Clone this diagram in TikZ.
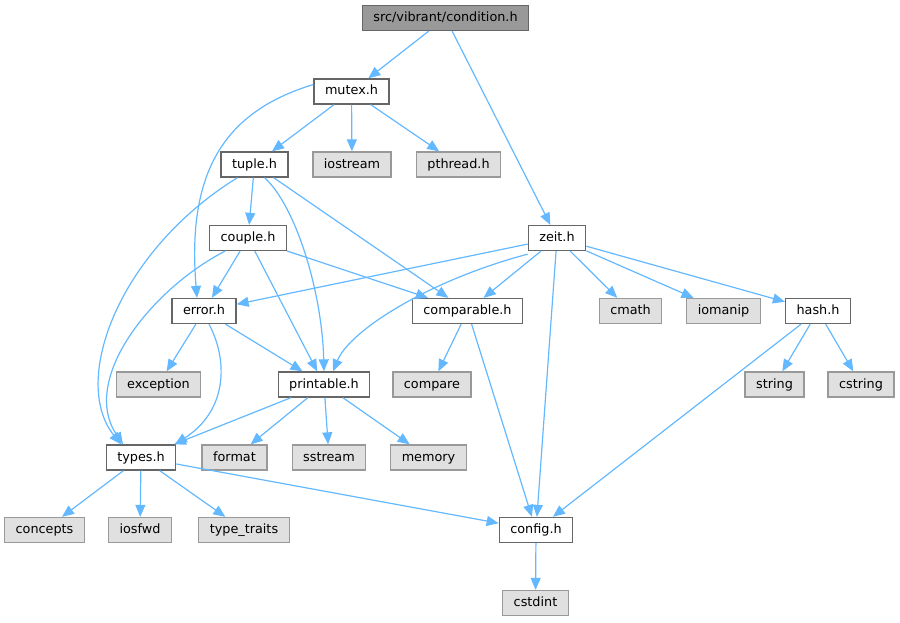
\documentclass[tikz,border=0pt]{standalone}
\usepackage{fontspec}
\setmainfont{DejaVu Sans}
\usepackage{tikz}
\usetikzlibrary{arrows.meta}
\usetikzlibrary{positioning}
\definecolor{edgeblue}{HTML}{63B8FF}
\definecolor{boxline}{HTML}{666666}
\definecolor{sysline}{HTML}{999999}
\definecolor{sysfill}{HTML}{E0E0E0}
\tikzset{file/.style = {draw=boxline, fill=white, line width=1.3pt,
                        inner xsep=11pt, inner ysep=0pt, minimum height=25pt,
                        text height=9.6pt, text depth=2.6pt,
                        font=\fontsize{12.8}{15}\selectfont}}
\tikzset{sysfile/.style = {file, draw=sysline, fill=sysfill}}
\tikzset{rootfile/.style = {file, fill=sysline}}
\tikzset{dep/.style = {draw=edgeblue, line width=1.2pt,
                       -{Triangle[length=12pt,width=10pt]}}}

\begin{document}
\begin{tikzpicture}[x=1pt, y=-1pt]
    \useasboundingbox (0, 0) rectangle (900, 623);

    \node [rootfile] (cond) at (445.5, 18) {src/vibrant/condition.h};
    \node [file] (mutex) at (351.5, 91.5) {mutex.h};
    \node [file] (tuple) at (254.5, 164.5) {tuple.h};
    \node [sysfile] (iostream) at (352, 164.5) {iostream};
    \node [sysfile] (pthread) at (458.5, 164.5) {pthread.h};
    \node [file] (couple) at (248, 238) {couple.h};
    \node [file] (zeit) at (557, 238) {zeit.h};
    \node [file] (error) at (204, 311) {error.h};
    \node [file] (comparable) at (467.5, 311) {comparable.h};
    \node [sysfile] (cmath) at (630.5, 311) {cmath};
    \node [sysfile] (iomanip) at (723.5, 311) {iomanip};
    \node [file] (hash) at (818, 311) {hash.h};
    \node [sysfile] (exception) at (158.5, 384.5) {exception};
    \node [file] (printable) at (324, 384.5) {printable.h};
    \node [sysfile] (compare) at (432, 384.5) {compare};
    \node [sysfile] (string) at (774.5, 384.5) {string};
    \node [sysfile] (cstring) at (861, 384.5) {cstring};
    \node [file] (types) at (141, 457.5) {types.h};
    \node [sysfile] (format) at (234.5, 457.5) {format};
    \node [sysfile] (sstream) at (329, 457.5) {sstream};
    \node [sysfile] (memory) at (428.5, 457.5) {memory};
    \node [sysfile] (concepts) at (44.5, 530) {concepts};
    \node [sysfile] (iosfwd) at (140, 530) {iosfwd};
    \node [sysfile] (typetraits) at (244, 530) {type\_traits};
    \node [file] (config) at (536, 530) {config.h};
    \node [sysfile] (cstdint) at (535.5, 603) {cstdint};

    % condition.h and mutex.h
    \draw [dep] (cond) -- (mutex);
    \draw [dep] (cond) -- (zeit);
    \draw [dep] (mutex) -- (tuple);
    \draw [dep] (mutex) -- (iostream);
    \draw [dep] (mutex) -- (pthread);
    \draw [dep] ([yshift=7pt]mutex.west) .. controls (230, 110) and (186, 165)
      .. ([xshift=-7pt]error.north);

    % tuple.h and couple.h
    \draw [dep] (tuple) -- (couple);
    \draw [dep] (tuple) -- (comparable);
    \draw [dep] ([xshift=-17pt]tuple.south) .. controls (120, 250) and (70, 380)
      .. ([xshift=-20pt]types.north);
    \draw [dep] ([xshift=10pt]tuple.south) .. controls (295, 205) and (322, 290)
      .. (printable.north);
    \draw [dep] (couple) -- (error);
    \draw [dep] (couple) -- (printable);
    \draw [dep] (couple) -- (comparable);
    \draw [dep] ([xshift=-23pt]couple.south) .. controls (150, 290) and (80, 380)
      .. ([xshift=-18pt]types.north);

    % zeit.h
    \draw [dep] (zeit) -- (error);
    \draw [dep] ([yshift=-3pt]zeit.south west) .. controls (430, 280) and (350, 330)
      .. ([xshift=9pt]printable.north);
    \draw [dep] (zeit) -- (comparable);
    \draw [dep] (zeit) -- (cmath);
    \draw [dep] (zeit) -- (iomanip);
    \draw [dep] (zeit) -- (hash);
    \draw [dep] (zeit) -- (config);

    % error.h, comparable.h, hash.h
    \draw [dep] (error) -- (exception);
    \draw [dep] (error) -- (printable);
    \draw [dep] ([xshift=5pt]error.south) .. controls (228, 360) and (228, 410)
      .. ([xshift=34pt]types.north);
    \draw [dep] (comparable) -- (compare);
    \draw [dep] (comparable) -- (config);
    \draw [dep] (hash) -- (string);
    \draw [dep] (hash) -- (cstring);
    \draw [dep] (hash) -- (config);

    % printable.h, types.h, config.h
    \draw [dep] (printable) -- (types);
    \draw [dep] (printable) -- (format);
    \draw [dep] (printable) -- (sstream);
    \draw [dep] (printable) -- (memory);
    \draw [dep] (types) -- (concepts);
    \draw [dep] (types) -- (iosfwd);
    \draw [dep] (types) -- (typetraits);
    \draw [dep] (types) -- (config);
    \draw [dep] (config) -- (cstdint);
  \end{tikzpicture}
\end{document}
